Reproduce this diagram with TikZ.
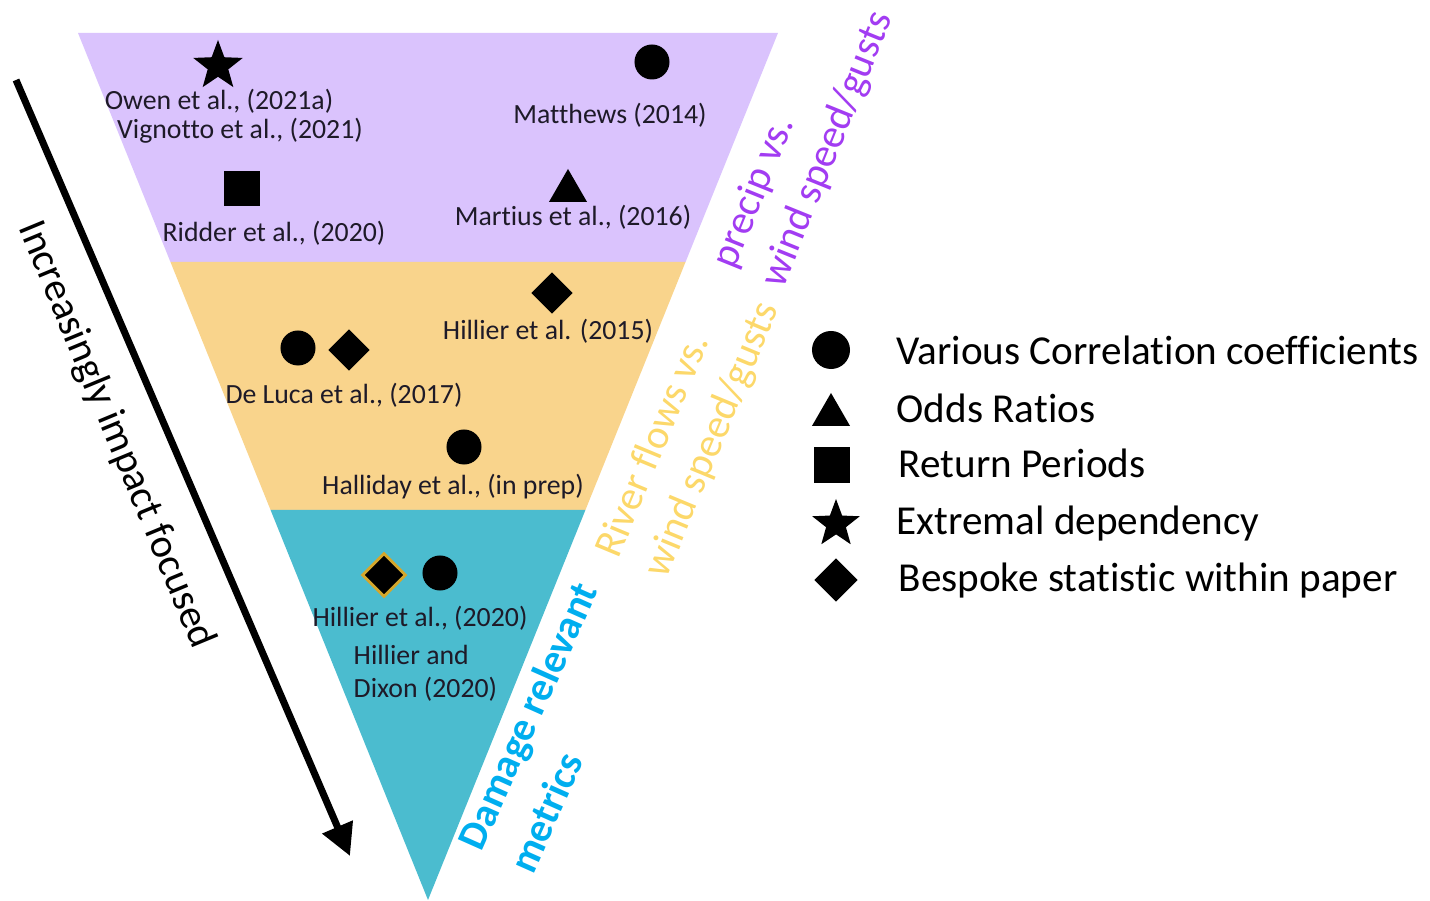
\documentclass[tikz,border=0pt]{standalone}
\usepackage{fontspec}
\setmainfont{Carlito}[Ligatures=NoCommon]
\usetikzlibrary{shapes.geometric,arrows.meta}
\definecolor{bandpurple}{HTML}{DAC3FD}
\definecolor{bandorange}{HTML}{F9D48C}
\definecolor{bandteal}{HTML}{4BBCCF}
\definecolor{txtpurple}{HTML}{A23CF2}
\definecolor{txtorange}{HTML}{FCD86A}
\definecolor{txtblue}{HTML}{00AEEF}
\definecolor{refdark}{HTML}{1E1A28}
\definecolor{goldedge}{HTML}{D4A72C}
\tikzset{
 ref/.style={font=\fontsize{7.9}{9.4}\selectfont, text=refdark, inner sep=0pt},
 legtxt/.style={font=\fontsize{11.7}{14}\selectfont, anchor=west, inner sep=0pt, text=black},
 dot/.style={circle, fill=black, minimum size=0.35cm, inner sep=0pt},
 sq/.style={rectangle, fill=black, minimum size=0.35cm, inner sep=0pt},
 tri/.style={regular polygon, regular polygon sides=3, fill=black, minimum size=0.44cm, inner sep=0pt},
 dia/.style={diamond, fill=black, minimum size=0.42cm, inner sep=0pt},
 starm/.style={star, star points=5, star point ratio=2.4, fill=black, minimum size=0.52cm, inner sep=0pt},
 side/.style={font=\fontsize{11.7}{14.8}\selectfont, align=left, inner sep=0pt},
}
\begin{document}
\begin{tikzpicture}[x=0.01cm, y=-0.01cm]
\useasboundingbox (0,0) rectangle (1430,901);
% bands
\fill[bandpurple] (78,33) -- (778,33) -- (685.55,262) -- (170.45,262) -- cycle;
\fill[bandorange] (170.45,262) -- (685.55,262) -- (585.44,510) -- (270.56,510) -- cycle;
\fill[bandteal] (270.56,510) -- (585.44,510) -- (428,900) -- cycle;
% purple band
\node[starm] (s1) at (218,66) {};
\node[ref] (t1) at (219,101) {Owen et al., (2021a)};
\node[ref] (t2) at (240,131) {Vignotto et al., (2021)};
\node[dot] (c1) at (652,62) {};
\node[ref] (t3) at (610,115) {Matthews (2014)};
\node[sq] (q1) at (242,189) {};
\node[ref] (t4) at (274,233) {Ridder et al., (2020)};
\node[tri] (r1) at (568,191) {};
\node[ref] (t5) at (573,217) {Martius et al., (2016)};
% orange band
\node[dia] (d1) at (552,293) {};
\node[ref] (t6) at (548,331) {Hillier et al. (2015)};
\node[dot] (c2) at (298,348) {};
\node[dia] (d2) at (349,350) {};
\node[ref] (t7) at (344,395) {De Luca et al., (2017)};
\node[dot] (c3) at (464,447) {};
\node[ref] (t8) at (453,487) {Halliday et al., (in prep)};
% teal band
\node[dia, draw=goldedge, line width=0.8pt, minimum size=0.44cm] (d3) at (384,575) {};
\node[dot] (c4) at (440,573) {};
\node[ref] (t9) at (420,618) {Hillier et al., (2020)};
\node[ref, align=left, anchor=west] (t10) at (353,673) {Hillier and\\Dixon (2020)};
% side labels
\node[side, text=txtpurple, rotate=68] (lp) at (804,140) {precip vs.\\wind speed/gusts};
\node[side, text=txtorange, rotate=67.5] (lo) at (689,430) {River flows vs.\\wind speed/gusts};
\node[side, text=txtblue, font=\bfseries\fontsize{11.6}{16}\selectfont, rotate=66] (lb) at (553,727) {Damage relevant\\metrics};
% arrow
\coordinate (aS) at (16,80);
\coordinate (aE) at (350,856);
\draw[line width=2pt, -{Triangle[length=9pt,width=9pt]}] (aS) -- (aE);
\node[font=\fontsize{11.6}{14}\selectfont, rotate=-67.5, inner sep=0pt] (arl) at (116,435) {Increasingly impact focused};
% legend
\node[dot, minimum size=0.38cm] (lg1) at (831,350) {};
\node[legtxt] (lt1) at (896,350) {Various Correlation coefficients};
\node[tri] (lg2) at (831,415) {};
\node[legtxt] (lt2) at (896,408) {Odds Ratios};
\node[sq, minimum size=0.36cm] (lg3) at (832,465) {};
\node[legtxt] (lt3) at (898,463) {Return Periods};
\node[starm, minimum size=0.5cm] (lg4) at (836,524) {};
\node[legtxt] (lt4) at (896,524) {Extremal dependency};
\node[dia, minimum size=0.44cm] (lg5) at (836,580) {};
\node[legtxt] (lt5) at (898,581) {Bespoke statistic within paper};
\end{tikzpicture}
\end{document}
